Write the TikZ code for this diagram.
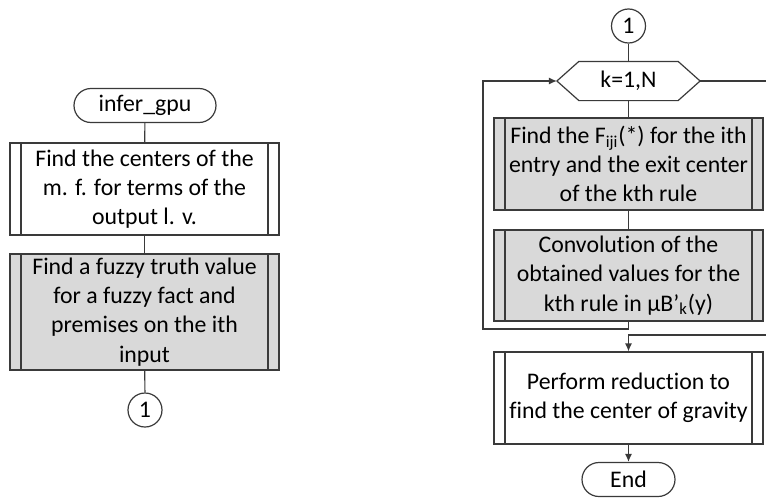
\documentclass[tikz,border=0pt]{standalone}
\usepackage{fontspec}
\setmainfont[Ligatures=NoCommon]{Carlito}
\usetikzlibrary{arrows.meta}
\definecolor{fcline}{HTML}{3A3A3A}
\definecolor{fcfill}{HTML}{D9D9D9}

\begin{document}
\begin{tikzpicture}[
    x=0.5pt, y=-0.5pt,
    font=\fontsize{11.9}{14.6}\selectfont,
    line width=0.6pt,
    terminal/.style={
        draw=fcline, rectangle, rounded corners=8.5pt,
        minimum width=71pt, minimum height=17pt, inner sep=0pt, align=center,
    },
    subproc/.style={
        draw=fcline, rectangle, align=center, inner sep=0pt,
        minimum width=134.5pt, minimum height=46pt,
        path picture={
            \draw[fcline] ([xshift=5.5pt]path picture bounding box.north west)
                -- ([xshift=5.5pt]path picture bounding box.south west);
            \draw[fcline] ([xshift=-5.5pt]path picture bounding box.north east)
                -- ([xshift=-5.5pt]path picture bounding box.south east);
        },
    },
    shaded/.style={subproc, fill=fcfill},
    joint/.style={draw=fcline, circle, minimum size=17pt, inner sep=0pt},
    loopbox/.style={rectangle, minimum width=71pt, minimum height=19pt, inner sep=0pt},
    link/.style={draw=fcline},
    arrow/.style={draw=fcline, -{Latex[length=4pt, width=3.5pt]}},
]
\useasboundingbox (0,0) rectangle (766,498);

% ===== Left column: infer_gpu =====
\node[terminal] (start) at (145, 105.5) {infer\_gpu};
\node[subproc]  (centers) at (144.5, 189) {
    Find the centers of the \\
    m. f. for terms of the \\
    output l. v.
};
\node[shaded, minimum height=58pt] (truth) at (144.5, 312) {
    Find a fuzzy truth value \\
    for a fuzzy fact and \\
    premises on the ith \\
    input
};
\node[joint] (outjoint) at (145, 410) {1};

\draw[link] (start) -- (centers);
\draw[link] (centers) -- (truth);
\draw[link] (truth) -- (outjoint);

% ===== Right column: loop over the rules =====
\node[joint]   (injoint) at (628.5, 26) {1};
\node[loopbox] (loop)    at (628.5, 81) {k=1,N};
\draw[fcline] (loop.west) -- ([xshift=11pt]loop.north west) -- ([xshift=-11pt]loop.north east)
    -- (loop.east) -- ([xshift=-11pt]loop.south east) -- ([xshift=11pt]loop.south west) -- cycle;

\node[shaded] (fiji) at (628.5, 164) {
    Find the F\textsubscript{iji}(*) for the ith \\
    entry and the exit center \\
    of the kth rule
};
\node[shaded, minimum height=45.5pt] (conv) at (628.5, 275.5) {
    Convolution of the \\
    obtained values for the \\
    kth rule in µB’\textsubscript{k}(y)
};
\node[subproc] (reduce) at (628.5, 398) {
    Perform reduction to \\
    find the center of gravity
};
\node[terminal, minimum width=46.5pt] (stop) at (628.5, 479.5) {End};

% corners of the loop lines
\coordinate (backL) at (483, 329);
\coordinate (exitR) at (772, 335);

\draw[link] (injoint) -- (loop);
\draw[link] (loop) -- (fiji);
\draw[link] (fiji) -- (conv);

% back to the loop head
\draw[arrow] (conv.south) |- (backL) |- (loop.west);

% loop exit (runs round outside the right edge)
\draw[arrow] (loop.east) -- (loop.east -| exitR) -- (exitR) -| (reduce.north);

\draw[arrow] (reduce) -- (stop);

\end{tikzpicture}
\end{document}
